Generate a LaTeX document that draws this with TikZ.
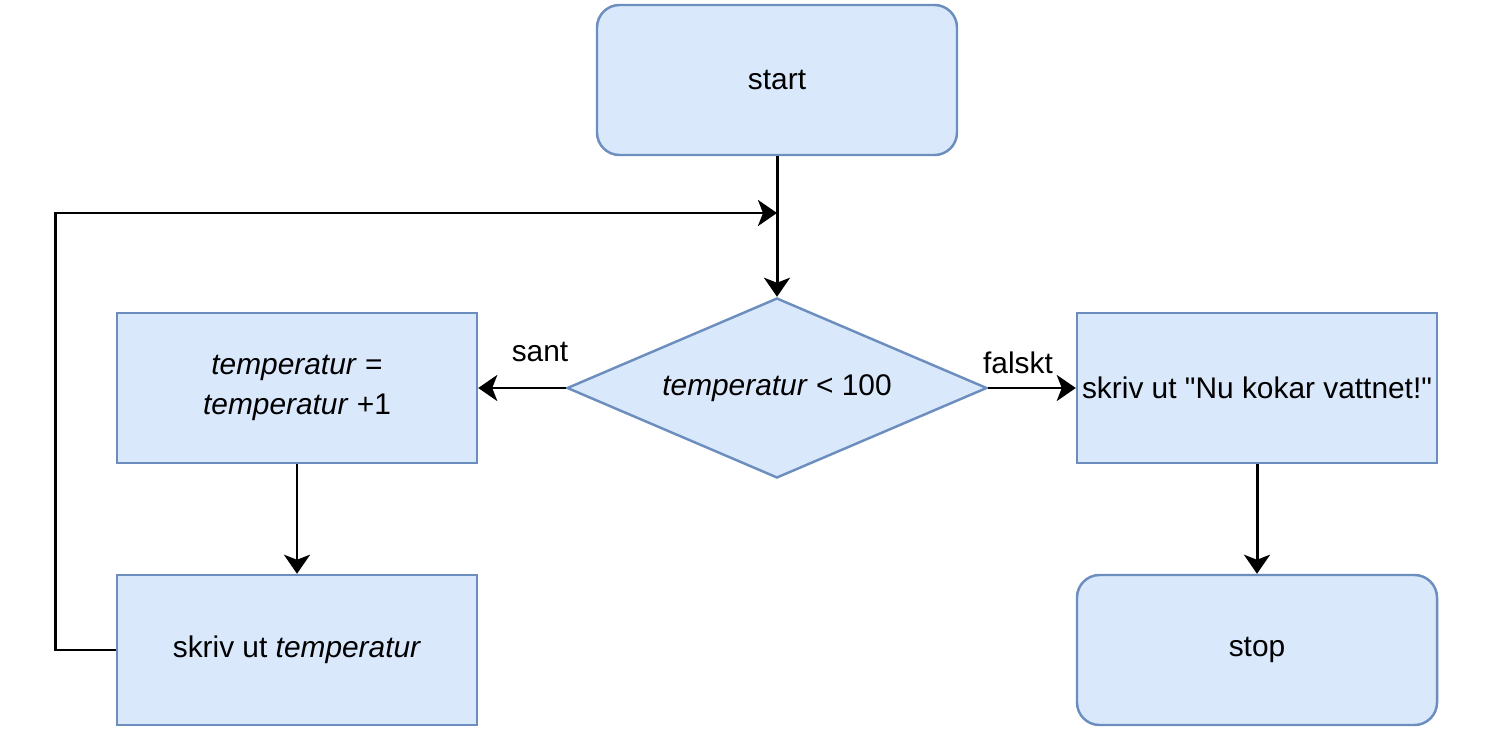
\documentclass[tikz,border=0pt]{standalone}
\usepackage{fontspec}
\setmainfont{Liberation Sans}
\usetikzlibrary{shapes.geometric,arrows.meta}
\definecolor{boxfill}{HTML}{DAE8FC}
\definecolor{boxline}{HTML}{6C8EBF}
\tikzset{
    box/.style={draw=boxline, fill=boxfill, line width=1.4pt, minimum width=7.2cm, minimum height=3cm, inner sep=2pt, align=center, font=\fontsize{17}{23}\selectfont},
    terminal/.style={box, rounded corners=0.45cm},
    process/.style={box},
    decision/.style={box, diamond, shape aspect=2.33, minimum width=8.4cm, minimum height=3.6cm, inner sep=0pt},
    flow/.style={line width=1.7pt, -{Stealth[length=0.38cm, width=0.52cm, inset=0.1cm]}},
    lbl/.style={font=\fontsize{17}{20}\selectfont}
}
\begin{document}
\begin{tikzpicture}
        \useasboundingbox (0,0) rectangle (30,14.6);
        \node[terminal] (start) at (15.54, 13.0) {start};
        \node[decision] (cond) at (15.54, 6.84) {\textit{temperatur} \textless{} 100};
        \node[process] (incr) at (5.94, 6.84) {\textit{temperatur} =\\ \textit{temperatur} +1};
        \node[process] (printtemp) at (5.94, 1.6) {skriv ut \textit{temperatur}};
        \node[process] (printmsg) at (25.14, 6.84) {skriv ut \textquotedbl Nu kokar vattnet!\textquotedbl};
        \node[terminal] (stop) at (25.14, 1.6) {stop};
        \coordinate (join) at (15.54, 10.34);
        \foreach \a / \b in {start.south/cond.north, cond.west/incr.east, cond.east/printmsg.west, incr.south/printtemp.north, printmsg.south/stop.north}
        {
            \draw[flow] (\a) -- (\b);
        }
        \draw[flow] (printtemp.west) -- ++(-1.2,0) |- (join);
        \node[lbl] (sant) at (10.8, 7.56) {sant};
        \node[lbl] (falskt) at (20.36, 7.34) {falskt};
    \end{tikzpicture}
\end{document}
